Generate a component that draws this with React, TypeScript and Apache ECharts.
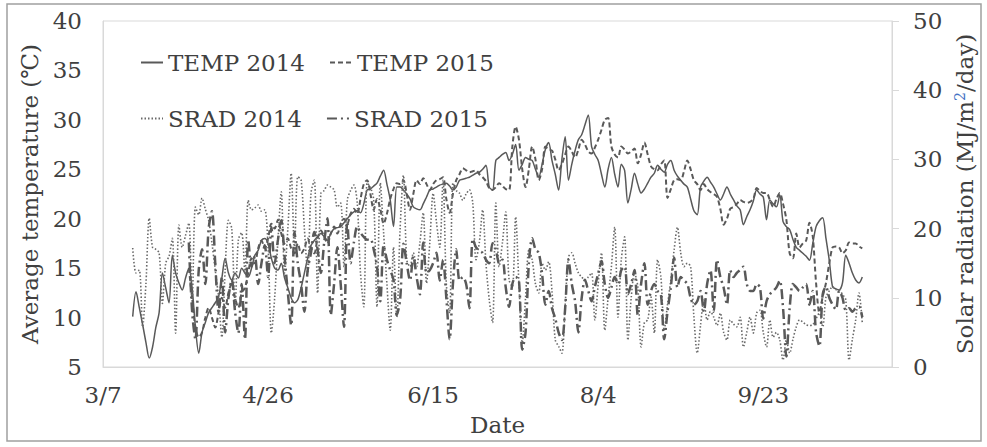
import React, { useEffect, useRef } from "react";
import * as echarts from "echarts";

// Day offsets are counted from March 7 (the first x-axis tick).
const xTickLabels = ["3/7", "4/26", "6/15", "8/4", "9/23"];
const start2014 = 9; // 3/16
const start2015 = 26; // 4/2

const temp2014 = [
  10.1, 12.6, 11, 9.3, 7.5, 5.9, 7, 9, 10.5, 14.5,
  13, 11.5, 16.3, 14.5, 13.5, 12.8, 14, 15, 13, 9,
  6.4, 8.5, 9.5, 10.5, 11, 11.5, 12.1, 14, 16, 14.5,
  13.8, 14.5, 14, 15, 14.5, 14.1, 15, 16.3, 16.8, 17.8,
  18, 17.5, 16, 15, 14.8, 15.5, 14, 13, 12, 11.5,
  11.8, 13, 14.5, 16, 17.3, 17.8, 18.2, 18.5, 18.2, 17.8,
  18.5, 19, 19.1, 19.2, 19.6, 20, 20.4, 20.7, 20.8, 20.6,
  21.5, 22.9, 23, 23.3, 23.6, 24.3, 24.9, 23.5, 21.9, 19.2,
  23.2, 23.2, 22.9, 22.5, 22, 21.2, 21, 20.9, 21.5, 22.2,
  22.9, 23, 23.2, 23.4, 23.5, 23.6, 23.3, 22.9, 23.2, 23.9,
  24, 24.1, 24.2, 24.4, 24.6, 24.7, 25, 25.4, 23.2, 22.9,
  25.9, 26.2, 26.5, 26.7, 25.9, 26.5, 27.5, 24.9, 25.5, 26.2,
  26, 25.9, 25, 24.2, 25.5, 27, 27.7, 25.9, 24.5, 22.9,
  26, 28.3, 23.9, 25.5, 26.9, 28, 28.5, 29.5, 30.5, 27.3,
  26.5, 25.9, 24.5, 23.2, 25, 26.2, 24.5, 23.2, 25.5, 24.9,
  21.6, 23, 24.6, 23.5, 22.6, 23, 23.6, 24.2, 24.6, 25.4,
  25, 24.7, 25.5, 25.9, 24.9, 24.3, 23.9, 23.5, 23.2, 22,
  20.8, 20.4, 23.2, 23.8, 24.2, 23.7, 23.2, 22.5, 21.9, 22.5,
  23.2, 22.5, 21.9, 21.3, 20.9, 19.4, 20.2, 20.9, 21.8, 22.9,
  22.5, 22.2, 19.9, 21.9, 21.5, 21.2, 22.4, 19.7, 19.2, 18.9,
  17.9, 17.1, 16.8, 16.5, 16.2, 15.8, 17.5, 19.2, 19.8, 20.1,
  18, 15.8, 13.1, 12.9, 12.8, 13.5, 16.3, 15.5, 14.5, 13.8,
  13.5, 14.1,
];

const temp2015 = [
  15, 12, 9, 8, 8.5, 10, 11, 10, 9, 10.5,
  12, 11, 12.5, 13.5, 12, 11, 12.5, 13, 14.5, 16,
  15.5, 17, 17.8, 17, 18, 19.5, 19, 19.9, 18.5, 17.5,
  18, 17, 16.5, 17.5, 16.5, 17, 18, 17, 16.5, 18,
  18.8, 18.2, 17.5, 18.5, 19.2, 18.5, 19.5, 20, 19.5, 20.5,
  21, 20.5, 22, 23.5, 23.9, 22.5, 20.9, 22, 21, 19.5,
  20.5, 22, 23, 23.6, 23.5, 23.9, 22.5, 20.9, 22.5, 23.9,
  23.5, 24.1, 23.5, 22.9, 23.5, 23.9, 24, 24.2, 22, 20.6,
  22.5, 23.9, 24.5, 25.1, 24.9, 24.7, 24.8, 24.9, 24.5, 24.2,
  23.8, 23.1, 22.9, 23.2, 23.6, 23.3, 23, 22.9, 27.3, 29.3,
  28, 25, 23.2, 25, 27.3, 26, 23.9, 25, 27.3, 27,
  26.9, 26, 24.9, 25.5, 26.5, 27.3, 26.8, 26.2, 27, 28,
  27.5, 26.8, 26.6, 27.2, 28, 29, 30, 30.2, 27.3, 26.5,
  26.2, 27.3, 27, 26.6, 26.8, 27.1, 25.6, 26.5, 27.7, 26.5,
  25.3, 25, 24.9, 25.5, 25.9, 22.1, 23, 23.9, 24, 23.9,
  24.8, 25.9, 25, 23.9, 23.5, 22.9, 23.5, 23, 22.7, 22.5,
  22.2, 21, 19.4, 20, 21, 21.2, 21.5, 21.9, 21.7, 21.6,
  21.7, 22, 23.1, 22.8, 22.6, 22.6, 21.9, 21.2, 22, 22.6,
  21.5, 19.9, 16.5, 16, 18.5, 17.1, 17.5, 17.8, 19.6, 18.2,
  13.5, 10.5, 12.1, 13.5, 15.5, 17.1, 17.2, 17.1, 16.5, 16.8,
  17.6, 17.5, 17.5, 17.2, 17,
];

const srad2014 = [
  17.2, 13.6, 14, 5.8, 12, 21.5, 17.3, 17, 16.5, 9.2,
  15, 16, 18.6, 4.9, 20.5, 17.3, 19, 20.8, 9.7, 23.1,
  22, 24.4, 22.8, 21.2, 17.9, 14, 10.1, 4.3, 14, 21.2,
  20, 8.7, 18.4, 19.4, 13.6, 24.1, 22.7, 23, 23.4, 22.5,
  22.7, 17.3, 4.9, 10, 18.4, 25.3, 13.6, 20, 28, 16.9,
  27.5, 27, 20, 13.6, 25.1, 27, 10.7, 25.1, 25.5, 26.3,
  26, 25.6, 23.1, 23.7, 14.5, 24.1, 25.5, 26.3, 23.7, 13.6,
  8.7, 26.6, 26, 24.1, 8.7, 26.6, 19.4, 12, 5.3, 17.3,
  7.2, 20, 27.7, 15.5, 14.5, 16.5, 14.5, 18, 22.3, 12.1,
  18, 25.1, 21, 17.3, 27, 12, 7.8, 26.6, 25.5, 25.1,
  24.1, 25, 25.6, 23.7, 15.5, 18, 22.7, 15, 9.7, 6.4,
  23.7, 14.5, 18, 22.4, 12.6, 11.6, 21.7, 12, 3.5, 10,
  16.9, 15.5, 12, 10.7, 15, 14, 15.2, 11, 3.9, 3,
  2, 9, 15.9, 16.5, 15, 13.6, 13, 12.6, 13, 13.6,
  6.8, 12, 16.5, 5.3, 10, 14.5, 20.2, 7.2, 15.5, 18.8,
  3.9, 10, 13.6, 11.6, 2.9, 6.4, 6.8, 10.1, 4.9, 15.5,
  13, 5.3, 9, 12.6, 16.9, 20.2, 16.5, 14.5, 15, 14.5,
  7.2, 2, 6, 9.7, 6.8, 8, 7.2, 6, 7.8, 5,
  3.9, 6.8, 6.2, 5.8, 7.2, 2.9, 5, 7.2, 4.9, 7.8,
  8.2, 5, 2.9, 6.8, 4.3, 5, 3.9, 1, 3.9, 2,
  4, 5.8, 6.8, 6.5, 6.1, 6, 6.1, 7, 7.8, 5.8,
  10.1, 11, 11.6, 11.2, 11.1, 10.5, 9.7, 1, 4, 6.8,
  10.7, 6.4,
];

const srad2015 = [
  18, 8, 4, 14, 17, 12, 20, 22.5, 15, 8,
  13, 5, 10, 12.6, 8, 4.9, 12, 4, 18.4, 14.5,
  16, 12, 15, 17.6, 13, 20.2, 15, 18.4, 21.2, 16,
  10.7, 6, 19.5, 15, 12, 8, 14, 16.5, 19.5, 17,
  13.6, 18, 21.5, 7.5, 12, 17.3, 12, 5.8, 21, 15,
  18, 20.3, 19.4, 18.8, 18.4, 18.5, 17, 14.5, 9.5, 17.6,
  15.5, 14, 12.6, 7.5, 9.7, 17.8, 15, 12.5, 16, 13,
  10.5, 18, 13.6, 14, 15, 16.5, 12.5, 15.5, 10, 4,
  12, 17, 12.5, 13, 12, 8.5, 18.5, 17.3, 16.8, 16.5,
  15.5, 15, 17.9, 17, 15, 15.5, 11.5, 8.7, 12, 13,
  12.5, 2.5, 5, 15, 18.6, 17, 16.5, 13.5, 9, 11,
  8.5, 7, 5, 3.9, 8.5, 15.5, 12, 9.5, 5, 10,
  12.6, 11, 9.5, 11.6, 13.5, 15.3, 12, 10, 11.5, 13,
  12, 14, 14.5, 10.5, 12, 14, 7.5, 12, 15, 9,
  11, 12, 11, 10.5, 4, 8, 11.5, 15.8, 11.5, 13,
  12.5, 12, 10, 9, 9.5, 11, 8, 12, 14, 8,
  15.5, 13, 11.5, 9, 14, 13, 13.6, 14, 14.5, 12,
  11, 11, 12, 11.5, 7, 9.5, 10.5, 11, 11.5, 12.5,
  8.5, 1.5, 8.5, 12, 11.5, 11, 11.5, 12, 9, 11,
  5, 3, 10.5, 11.6, 10, 9, 8.3, 11, 10, 8.2,
  8.5, 8, 8.5, 8.7, 7.2,
];

const FONT = "DejaVu Serif";
const TXT = "#404040";
const LINE = "#595959";

const toPairs = (start: number, vals: number[]) => vals.map((v, i) => [start + i, v]);

export default function App() {
  const ref = useRef<HTMLDivElement>(null);
  useEffect(() => {
    if (!ref.current) return;
    const chart = echarts.init(ref.current, null, { renderer: "svg" });
    const legendText = { fontFamily: FONT, fontSize: 23, color: TXT };
    const legendCommon = {
      left: 135,
      itemWidth: 22,
      itemHeight: 12,
      itemGap: 24,
      itemStyle: { opacity: 0 },
      textStyle: legendText,
    };
    chart.setOption({
      animation: false,
      backgroundColor: "#ffffff",
      textStyle: { fontFamily: FONT },
      graphic: [
        {
          type: "rect",
          shape: { x: 7, y: 4, width: 974, height: 437 },
          style: { fill: "none", stroke: "#a0a0a0", lineWidth: 1.5 },
          silent: true,
          z: -10,
        },
      ],
      grid: {
        left: 103,
        right: 95,
        top: 21,
        bottom: 80,
        show: true,
        borderColor: "#d9d9d9",
        borderWidth: 1,
        backgroundColor: "transparent",
      },
      legend: [
        { ...legendCommon, data: ["TEMP 2014", "TEMP 2015"], top: 46 },
        { ...legendCommon, data: ["SRAD 2014", "SRAD 2015"], top: 102 },
      ],
      xAxis: {
        type: "value",
        min: 0,
        max: 239,
        interval: 50,
        name: "Date",
        nameLocation: "middle",
        nameGap: 46,
        nameTextStyle: { fontFamily: FONT, fontSize: 23, color: TXT },
        axisLine: { show: true, lineStyle: { color: "#d9d9d9" } },
        axisTick: { show: false },
        splitLine: { show: false },
        axisLabel: {
          showMaxLabel: false,
          margin: 16,
          fontFamily: FONT,
          fontSize: 23,
          color: TXT,
          formatter: (v: number) => xTickLabels[Math.round(v / 50)] ?? "",
        },
      },
      yAxis: [
        {
          type: "value",
          min: 5,
          max: 40,
          interval: 5,
          name: "Average temperature (℃)",
          nameLocation: "middle",
          nameRotate: 90,
          nameGap: 58,
          nameTextStyle: { fontFamily: FONT, fontSize: 23, color: TXT },
          axisLine: { show: true, lineStyle: { color: "#d9d9d9" } },
          axisTick: { show: false },
          splitLine: { show: false },
          axisLabel: { margin: 21, fontFamily: FONT, fontSize: 23, color: TXT },
        },
        {
          type: "value",
          min: 0,
          max: 50,
          interval: 10,
          position: "right",
          name: "Solar radiation (MJ/m{sup|2}/day)",
          nameLocation: "middle",
          nameRotate: 90,
          nameGap: 58,
          nameTextStyle: {
            fontFamily: FONT,
            fontSize: 23,
            color: TXT,
            rich: {
              sup: { fontFamily: FONT, fontSize: 14, color: "#4472c4", verticalAlign: "top", padding: [0, 0, 8, 0] },
            },
          },
          axisLine: { show: true, lineStyle: { color: "#d9d9d9" } },
          axisTick: { show: true, inside: false, length: 7, lineStyle: { color: "#d9d9d9" } },
          splitLine: { show: false },
          axisLabel: { margin: 21, fontFamily: FONT, fontSize: 23, color: TXT },
        },
      ],
      series: [
        {
          name: "TEMP 2014",
          type: "line",
          yAxisIndex: 0,
          data: toPairs(start2014, temp2014),
          showSymbol: false,
          symbol: "none",
          smooth: 0.3,
          lineStyle: { color: LINE, width: 1.5, type: "solid" },
          itemStyle: { color: LINE },
        },
        {
          name: "TEMP 2015",
          type: "line",
          yAxisIndex: 0,
          data: toPairs(start2015, temp2015),
          showSymbol: false,
          symbol: "none",
          smooth: 0.3,
          lineStyle: { color: LINE, width: 2, type: [5, 3] },
          itemStyle: { color: LINE },
        },
        {
          name: "SRAD 2014",
          type: "line",
          yAxisIndex: 1,
          data: toPairs(start2014, srad2014),
          showSymbol: false,
          symbol: "none",
          smooth: 0.3,
          lineStyle: { color: "#6a6a6a", width: 1.6, type: [1.5, 2] },
          itemStyle: { color: "#6a6a6a" },
        },
        {
          name: "SRAD 2015",
          type: "line",
          yAxisIndex: 1,
          data: toPairs(start2015, srad2015),
          showSymbol: false,
          symbol: "none",
          smooth: 0.3,
          lineStyle: { color: LINE, width: 2.5, type: [10, 4, 2, 4] },
          itemStyle: { color: LINE },
        },
      ],
    });
    return () => chart.dispose();
  }, []);
  return (
    <div
      ref={ref}
      style={{ position: "absolute", left: 0, top: 0, width: 987, height: 447 }}
    />
  );
}
